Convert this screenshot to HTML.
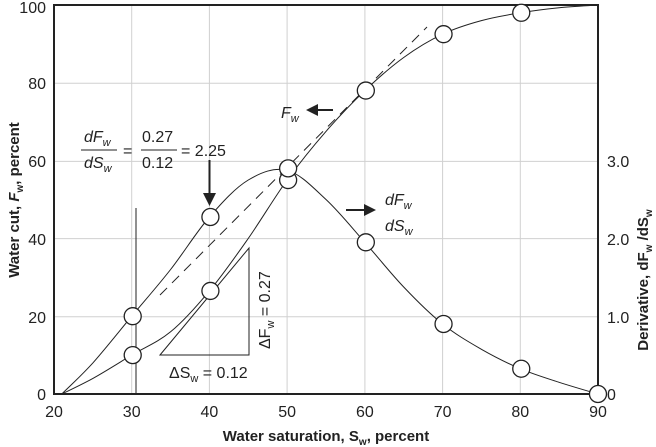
<!DOCTYPE html>
<html><head><style>
body{margin:0;background:#fff;}
svg{display:block;font-family:"Liberation Sans",sans-serif;}
</style></head><body>
<svg id="s" width="656" height="447" viewBox="0 0 656 447">
<g stroke="#d0d0d0" stroke-width="1">
<line x1="131.7" y1="5" x2="131.7" y2="394"/><line x1="209.4" y1="5" x2="209.4" y2="394"/>
<line x1="287.1" y1="5" x2="287.1" y2="394"/><line x1="364.9" y1="5" x2="364.9" y2="394"/>
<line x1="442.6" y1="5" x2="442.6" y2="394"/><line x1="520.3" y1="5" x2="520.3" y2="394"/>
<line x1="54" y1="83.2" x2="598" y2="83.2"/><line x1="54" y1="161.4" x2="598" y2="161.4"/>
<line x1="54" y1="238.6" x2="598" y2="238.6"/><line x1="54" y1="316.8" x2="598" y2="316.8"/>
</g>
<rect x="54" y="5" width="544" height="389" fill="none" stroke="#222" stroke-width="2"/>
<g font-size="16" fill="#222" text-anchor="middle">
<text x="54" y="417">20</text><text x="131.7" y="417">30</text><text x="209.4" y="417">40</text><text x="287.1" y="417">50</text><text x="364.9" y="417">60</text><text x="442.6" y="417">70</text><text x="520.3" y="417">80</text><text x="598" y="417">90</text>
</g>
<g font-size="16" fill="#222" text-anchor="end">
<text x="46" y="13">100</text><text x="46" y="89">80</text><text x="46" y="167">60</text><text x="46" y="245">40</text><text x="46" y="323">20</text><text x="46" y="400">0</text>
</g>
<g font-size="16" fill="#222" text-anchor="start">
<text x="607" y="167">3.0</text><text x="607" y="245">2.0</text><text x="607" y="323">1.0</text><text x="607" y="400">0</text>
</g>
<text x="326" y="441" font-size="15" font-weight="bold" text-anchor="middle" fill="#222">Water saturation, S<tspan font-size="10" dy="4">w</tspan><tspan dy="-4">, percent</tspan></text>
<text transform="translate(19,200) rotate(-90)" font-size="15" font-weight="bold" text-anchor="middle" fill="#222">Water cut, <tspan font-style="italic">F</tspan><tspan font-size="10" dy="4">w</tspan><tspan dy="-4">, percent</tspan></text>
<text transform="translate(648,280) rotate(-90)" font-size="15" font-weight="bold" text-anchor="middle" fill="#222">Derivative, dF<tspan font-size="10" dy="4">w</tspan><tspan dy="-4"> /dS</tspan><tspan font-size="10" dy="4">w</tspan></text>
<g id="curves" fill="none" stroke="#222" stroke-width="1"></g>
<line x1="160" y1="295" x2="427" y2="27" stroke="#222" stroke-dasharray="10,7"/>
<path d="M160 355 L249 248 L249 355 Z" fill="none" stroke="#222"/>
<line x1="136" y1="208" x2="136" y2="394" stroke="#222"/>
<g id="pts" fill="#fff" stroke="#222" stroke-width="1.3"></g>
<line x1="209.5" y1="160" x2="209.5" y2="195" stroke="#222" stroke-width="2"/><path d="M203 193 L216 193 L209.5 206 Z" fill="#222"/>
<line x1="316" y1="110" x2="333" y2="110" stroke="#222" stroke-width="2"/><path d="M306 110 L318 104 L318 116 Z" fill="#222"/>
<line x1="346" y1="210" x2="365" y2="210" stroke="#222" stroke-width="2"/><path d="M376 210 L364 204 L364 216 Z" fill="#222"/>
<g font-size="16" fill="#222" font-style="italic">
<text x="281" y="118">F<tspan font-size="11" dy="4">w</tspan></text>
<text x="385" y="205">dF<tspan font-size="11" dy="4">w</tspan></text>
<text x="385" y="231">dS<tspan font-size="11" dy="4">w</tspan></text>
<text x="84" y="142">dF<tspan font-size="11" dy="4">w</tspan></text>
<text x="84" y="168">dS<tspan font-size="11" dy="4">w</tspan></text>
</g>
<line x1="81" y1="150" x2="117" y2="150" stroke="#222"/><line x1="141" y1="150" x2="177" y2="150" stroke="#222"/>
<g font-size="16" fill="#222">
<text x="123" y="156">=</text>
<text x="142" y="142">0.27</text><text x="142" y="168">0.12</text>
<text x="181" y="156">= 2.25</text>
<text x="169" y="378">ΔS<tspan font-size="11" dy="4">w</tspan><tspan dy="-4"> = 0.12</tspan></text>
<text transform="translate(270,349) rotate(-90)">ΔF<tspan font-size="11" dy="4">w</tspan><tspan dy="-4"> = 0.27</tspan></text>
</g>
</svg>
<script>
function X(v){return 54+(v-20)*7.771;}function Y(v){return 394-v*3.89;}
function cr(p){var q=p.map(a=>[X(a[0]),Y(a[1])]);var d="M"+q[0][0].toFixed(1)+" "+q[0][1].toFixed(1);
for(var i=0;i<q.length-1;i++){var p0=q[Math.max(0,i-1)],p1=q[i],p2=q[i+1],p3=q[Math.min(q.length-1,i+2)];
d+=" C"+(p1[0]+(p2[0]-p0[0])/6).toFixed(1)+" "+(p1[1]+(p2[1]-p0[1])/6).toFixed(1)+" "+(p2[0]-(p3[0]-p1[0])/6).toFixed(1)+" "+(p2[1]-(p3[1]-p1[1])/6).toFixed(1)+" "+p2[0].toFixed(1)+" "+p2[1].toFixed(1);}
return d;}
var fw=[[21,0],[25,4],[30,10],[35,16],[40,26.5],[45,40],[50,55],[55,67.5],[60,78],[65,86.5],[70,92.5],[75,96],[80,98],[85,99.3],[90,100]];
var dv=[[21,0],[25,8],[30,20],[35,32],[40,45.5],[45,55],[50,57.5],[55,50],[60,39],[65,27.5],[70,18],[75,11.5],[80,6.5],[85,3],[90,0]];
var g=document.getElementById("curves"),ns="http://www.w3.org/2000/svg";
[fw,dv].forEach(function(p){var e=document.createElementNS(ns,"path");e.setAttribute("d",cr(p));g.appendChild(e);});
var pts=[[30,10],[40,26.5],[50,55],[60,78],[70,92.5],[80,98],[30,20],[40,45.5],[50,58],[60,39],[70,18],[80,6.5],[90,0]];
var pg=document.getElementById("pts");
pts.forEach(function(a){var c=document.createElementNS(ns,"circle");c.setAttribute("cx",X(a[0])+(a[0]==90?0:1));c.setAttribute("cy",Y(a[1]));c.setAttribute("r",8.5);pg.appendChild(c);});
</script>
</body></html>
